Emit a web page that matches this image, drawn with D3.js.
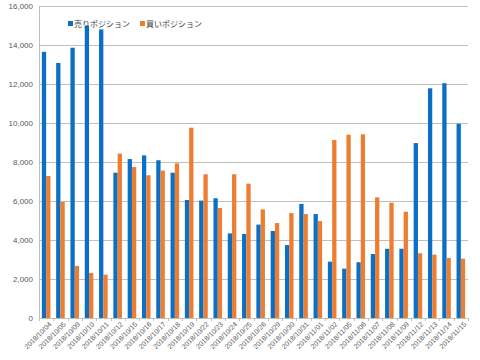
<!DOCTYPE html>
<html>
<head>
<meta charset="utf-8">
<style>
    body { margin: 0; background: #fff; }
    svg { display: block; }
    .grid line { stroke: #c0c0c0; stroke-width: 1px; }
    .grid .domain { display: none; }
    .y text { font-family: "Liberation Sans", Arial, sans-serif; font-size: 8px; fill: #595959; }
    .x text { font-family: "Liberation Sans", Arial, sans-serif; font-size: 7px; fill: #595959; }
    .x line, .x .domain { stroke: #bfbfbf; }
    .legend text { font-family: "Noto Sans CJK JP", sans-serif; font-size: 8px; fill: #404040; }
</style>
</head>
<body>
<svg width="480" height="360"></svg>
<script src="https://d3js.org/d3.v7.min.js"></script>
<script>
    let dates = ["2018/10/04", "2018/10/05", "2018/10/09", "2018/10/10", "2018/10/11", "2018/10/12",
        "2018/10/15", "2018/10/16", "2018/10/17", "2018/10/18", "2018/10/19", "2018/10/22",
        "2018/10/23", "2018/10/24", "2018/10/25", "2018/10/26", "2018/10/29", "2018/10/30",
        "2018/10/31", "2018/11/01", "2018/11/02", "2018/11/05", "2018/11/06", "2018/11/07",
        "2018/11/08", "2018/11/09", "2018/11/12", "2018/11/13", "2018/11/14", "2018/11/15"];

    // 売りポジション
    let sellPos = [13650, 13080, 13860, 15000, 14800, 7450, 8150, 8340, 8090, 7450, 6050, 6020,
        6140, 4340, 4310, 4790, 4460, 3740, 5850, 5330, 2890, 2530, 2860, 3280,
        3550, 3550, 8970, 11780, 12040, 9960];

    // 買いポジション
    let buyPos = [7280, 5950, 2670, 2310, 2220, 8430, 7740, 7320, 7560, 7930, 9760, 7370,
        5640, 7370, 6890, 5570, 4870, 5380, 5330, 4970, 9130, 9400, 9420, 6190,
        5910, 5450, 3320, 3250, 3080, 3040];

    let seriesNames = ["売りポジション", "買いポジション"];
    let colors = ["#0b6fc6", "#ed7d31"];
    let yTicks = [0, 2000, 4000, 6000, 8000, 10000, 12000, 14000, 16000];

    let margin = { top: 6, right: 12, bottom: 42, left: 39 };
    let width = 480, height = 360;

    let svg = d3.select("svg");

    let x = d3.scaleBand()
        .domain(dates)
        .range([margin.left, width - margin.right])
        .paddingInner(0.4)
        .paddingOuter(0.2);

    let x1 = d3.scaleBand()
        .domain([0, 1])
        .range([0, x.bandwidth()]);

    let y = d3.scaleLinear()
        .domain([0, 16000])
        .range([height - margin.bottom, margin.top]);

    // gridlines
    svg.append("g")
        .attr("class", "grid")
        .attr("transform", `translate(${margin.left},0)`)
        .call(d3.axisLeft(y).tickValues(yTicks.slice(1)).tickSize(-(width - margin.left - margin.right)).tickFormat(""));

    // y axis labels
    let yAxis = svg.append("g")
        .attr("class", "y")
        .attr("transform", `translate(${margin.left},0)`)
        .call(d3.axisLeft(y).tickValues(yTicks).tickSize(0).tickPadding(6).tickFormat(d3.format(",")));
    yAxis.select(".domain").remove();

    svg.append("line")
        .attr("x1", margin.left + 0.5).attr("x2", margin.left + 0.5)
        .attr("y1", y(16000)).attr("y2", y(0) + 3)
        .style("stroke", "#bfbfbf");

    // bars
    let rows = dates.map((d, i) => ({ date: d, vals: [sellPos[i], buyPos[i]] }));

    svg.append("g")
        .selectAll("g")
        .data(rows)
        .join("g")
        .attr("transform", d => `translate(${x(d.date)},0)`)
        .selectAll("rect")
        .data(d => d.vals.map((v, k) => ({ k: k, v: v })))
        .join("rect")
        .attr("x", d => x1(d.k))
        .attr("width", x1.bandwidth())
        .attr("y", d => y(d.v))
        .attr("height", d => y(0) - y(d.v))
        .style("fill", d => colors[d.k]);

    // x axis
    let step = x.step();
    let xAxis = svg.append("g")
        .attr("class", "x")
        .attr("transform", `translate(0,${y(0)})`)
        .call(d3.axisBottom(x).tickSize(0).tickPadding(4));
    xAxis.select(".domain").attr("d", `M${margin.left},0.5H${width - margin.right}`);
    xAxis.selectAll(".tick text")
        .attr("text-anchor", "end")
        .attr("dx", "0")
        .attr("dy", "0")
        .attr("transform", "translate(3,4) rotate(-45)");

    // category boundary ticks
    svg.append("g")
        .selectAll("line")
        .data(d3.range(dates.length + 1))
        .join("line")
        .attr("x1", i => Math.round(margin.left + i * step) + 0.5)
        .attr("x2", i => Math.round(margin.left + i * step) + 0.5)
        .attr("y1", y(0))
        .attr("y2", y(0) + 3)
        .style("stroke", "#bfbfbf");

    // legend
    let legend = svg.append("g").attr("class", "legend");
    let legendX = [68, 140];
    seriesNames.forEach((name, k) => {
        legend.append("rect")
            .attr("x", legendX[k]).attr("y", 21)
            .attr("width", 5).attr("height", 5)
            .style("fill", colors[k]);
        legend.append("text")
            .attr("x", legendX[k] + 6).attr("y", 26.5)
            .text(name);
    });
</script>
</body>
</html>
